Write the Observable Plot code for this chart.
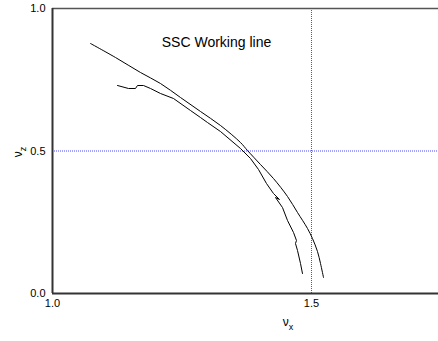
<!DOCTYPE html>
<html><head><meta charset="utf-8">
<script src="https://cdn.jsdelivr.net/npm/d3@7"></script>
<script src="https://cdn.jsdelivr.net/npm/@observablehq/plot@0.6"></script>
<style>body{margin:0;background:#fff;font-family:"Liberation Sans",Arial,sans-serif}</style>
</head><body><div id="chart"></div>
<script>
const upperX = [1.0734,1.1216,1.1699,1.2085,1.2471,1.2857,1.3243,1.3629,1.3764,1.4015,1.4266,1.4537,1.4730,1.4923,1.5019,1.5116,1.5174,1.5232];
const upperY = [0.8772,0.8281,0.7754,0.7368,0.6877,0.6386,0.5895,0.5298,0.5018,0.4526,0.4035,0.3404,0.2842,0.2281,0.1930,0.1474,0.1053,0.0561];
const lowerX = [1.1255,1.1467,1.1602,1.1641,1.1757,1.1892,1.2085,1.2336,1.2664,1.2857,1.2992,1.3243,1.3629,1.3822,1.3977,1.4131,1.4266,1.4382,1.4305,1.4440,1.4537,1.4653,1.4710,1.4691,1.4730,1.4788,1.4826];
const lowerY = [0.7298,0.7193,0.7193,0.7298,0.7298,0.7193,0.7018,0.6842,0.6421,0.6175,0.6000,0.5684,0.5088,0.4737,0.4351,0.3860,0.3509,0.3298,0.3368,0.3018,0.2561,0.2140,0.1860,0.1754,0.1509,0.1053,0.0702];
const xTicks = [1.0, 1.5];
const yTicks = [0.0, 0.5, 1.0];
const refX = [1.5];
const refY = [0.5];
const titleText = ["SSC Working line"];
const titleX = [1.3166];
const titleY = [0.881];

const upper = upperX.map((x,i)=>({x, y: upperY[i]}));
const lower = lowerX.map((x,i)=>({x, y: lowerY[i]}));

const plot = Plot.plot({
  width: 438, height: 341,
  marginLeft: 52, marginRight: 0, marginTop: 8, marginBottom: 48,
  style: {fontFamily: '"Liberation Sans", Arial, sans-serif', fontSize: "11px", background: "#fff"},
  x: {domain: [1.0, 1.7452], ticks: xTicks, tickFormat: d3.format(".1f"), tickSize: 0, tickPadding: 6, label: null},
  y: {domain: [0, 1], ticks: yTicks, tickFormat: d3.format(".1f"), tickSize: 0, tickPadding: 7, label: null},
  marks: [
    Plot.ruleX(refX, {stroke: "#4848ff", strokeDasharray: "1,1", strokeWidth: 1}),
    Plot.ruleY(refY, {stroke: "#4848ff", strokeDasharray: "1,1", strokeWidth: 1}),
    Plot.ruleY([1], {stroke: "#555", strokeWidth: 1.5}),
    Plot.ruleY([0], {stroke: "#333", strokeWidth: 2}),
    Plot.ruleX([1], {stroke: "#333", strokeWidth: 2}),
    Plot.line(upper, {x: "x", y: "y", stroke: "#000", strokeWidth: 1, curve: "catmull-rom"}),
    Plot.line(lower, {x: "x", y: "y", stroke: "#000", strokeWidth: 1}),
    Plot.text(titleText, {x: titleX, y: titleY, text: d => d, fontSize: 14, fill: "#000"})
  ]
});
const svg = d3.select(plot);
const xl = svg.append("text").attr("x", 288).attr("y", 326).attr("font-size", 12).attr("fill", "#000");
xl.append("tspan").text("ν");
xl.append("tspan").attr("dy", 4).attr("font-size", 9).text("x");
const yl = svg.append("text").attr("transform", "translate(22,152) rotate(-90)").attr("font-size", 12).attr("fill", "#000").attr("text-anchor", "middle");
yl.append("tspan").text("ν");
yl.append("tspan").attr("dy", 4).attr("font-size", 9).text("z");
document.getElementById("chart").appendChild(plot);
</script>
</body></html>
